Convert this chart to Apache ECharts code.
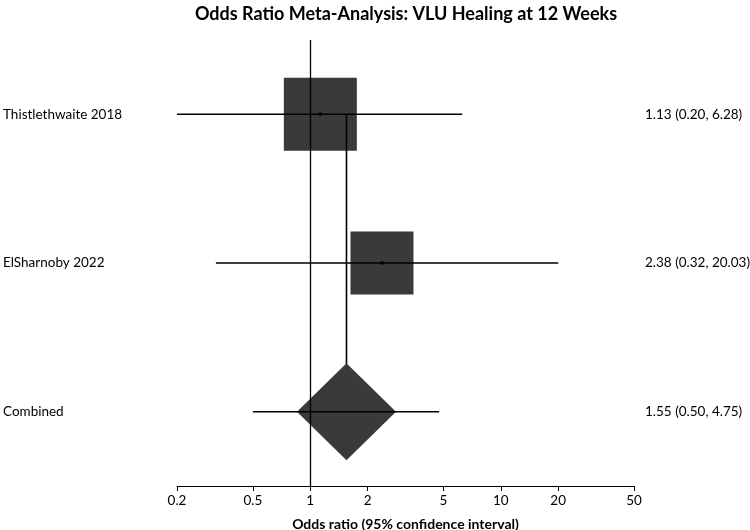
<!DOCTYPE html>
<html>
<head>
<meta charset="utf-8">
<script src="https://cdn.jsdelivr.net/npm/echarts@6/dist/echarts.min.js"></script>
<style>html,body{margin:0;padding:0;background:#fff}#c{width:750px;height:530px}</style>
</head>
<body>
<div id="c"></div>
<script>
var studies = ['Thistlethwaite 2018', 'ElSharnoby 2022', 'Combined'];
var oddsRatio = [1.13, 2.38, 1.55];
var ciLow = [0.20, 0.32, 0.50];
var ciHigh = [6.28, 20.03, 4.75];
var xTicks = [0.2, 0.5, 1, 2, 5, 10, 20, 50];

var FONT = 'Lato';
var n = studies.length;
var rowY = studies.map(function (s, i) { return n - i; });
var ciLabels = studies.map(function (s, i) {
  return oddsRatio[i].toFixed(2) + ' (' + ciLow[i].toFixed(2) + ', ' + ciHigh[i].toFixed(2) + ')';
});
var squareSizes = [73, 63];
var pooled = oddsRatio[n - 1];

var chart = echarts.init(document.getElementById('c'), null, { renderer: 'canvas' });
chart.setOption({
  animation: false,
  backgroundColor: '#fff',
  title: {
    text: 'Odds Ratio Meta-Analysis: VLU Healing at 12 Weeks',
    left: 401, textAlign: 'center', top: 0,
    textStyle: { fontFamily: FONT, fontWeight: 'bold', fontSize: 18, color: '#000' }
  },
  grid: { left: 177, right: 116, top: 40, bottom: 44, containLabel: false, outerBoundsMode: 'none' },
  xAxis: {
    type: 'log', logBase: 10, min: 0.2, max: 50,
    name: 'Odds ratio (95% confidence interval)', nameLocation: 'middle', nameGap: 31,
    nameTextStyle: { fontFamily: FONT, fontWeight: 'bold', fontSize: 14, color: '#000' },
    axisLine: { lineStyle: { color: '#000', width: 1 } },
    axisTick: { show: true, customValues: xTicks, length: 5, lineStyle: { color: '#000' } },
    axisLabel: { customValues: xTicks, fontFamily: FONT, fontSize: 13.5, color: '#000', margin: 8,
      formatter: function (v) { return String(+v.toPrecision(6)); } },
    splitLine: { show: false }, minorTick: { show: false }
  },
  yAxis: [
    { type: 'value', min: 0.5, max: n + 0.5, show: false },
    { type: 'category', data: studies.slice().reverse(), position: 'left',
      axisLine: { show: false }, axisTick: { show: false }, splitLine: { show: false },
      axisLabel: { align: 'left', margin: 174, fontFamily: FONT, fontSize: 13.5, color: '#000' } },
    { type: 'category', data: ciLabels.slice().reverse(), position: 'right',
      axisLine: { show: false }, axisTick: { show: false }, splitLine: { show: false },
      axisLabel: { align: 'left', margin: 11, fontFamily: FONT, fontSize: 13.5, color: '#000' } }
  ],
  series: [
    {
      type: 'scatter', yAxisIndex: 0, z: 2, symbol: 'rect', silent: true,
      itemStyle: { color: '#3a3a3a', opacity: 1 },
      data: oddsRatio.slice(0, n - 1).map(function (v, i) {
        return { value: [v, rowY[i]], symbolSize: squareSizes[i] };
      })
    },
    {
      type: 'line', yAxisIndex: 0, z: 3, symbol: 'none', silent: true,
      lineStyle: { color: '#000', width: 1.6 },
      data: [[pooled, rowY[0]], [pooled, rowY[n - 1]]],
      markLine: {
        silent: true, symbol: 'none', label: { show: false },
        lineStyle: { color: '#000', width: 1.3, type: 'solid' },
        data: [{ xAxis: 1 }]
      }
    },
    {
      type: 'scatter', yAxisIndex: 0, z: 4, symbol: 'diamond', symbolSize: [99, 97], silent: true,
      itemStyle: { color: '#3a3a3a', opacity: 1 },
      data: [[pooled, rowY[n - 1]]]
    },
    {
      type: 'custom', yAxisIndex: 0, z: 5, silent: true,
      encode: { x: [0, 1], y: 2 },
      data: studies.map(function (s, i) { return [ciLow[i], ciHigh[i], rowY[i]]; }),
      renderItem: function (params, api) {
        var a = api.coord([api.value(0), api.value(2)]);
        var b = api.coord([api.value(1), api.value(2)]);
        return { type: 'line', shape: { x1: a[0], y1: a[1], x2: b[0], y2: b[1] },
          style: { stroke: '#000', lineWidth: 1.5 } };
      }
    },
    {
      type: 'scatter', yAxisIndex: 0, z: 6, symbol: 'circle', symbolSize: 4, silent: true,
      itemStyle: { color: '#000' },
      data: oddsRatio.slice(0, n - 1).map(function (v, i) { return [v, rowY[i]]; })
    }
  ]
});
</script>
</body>
</html>
